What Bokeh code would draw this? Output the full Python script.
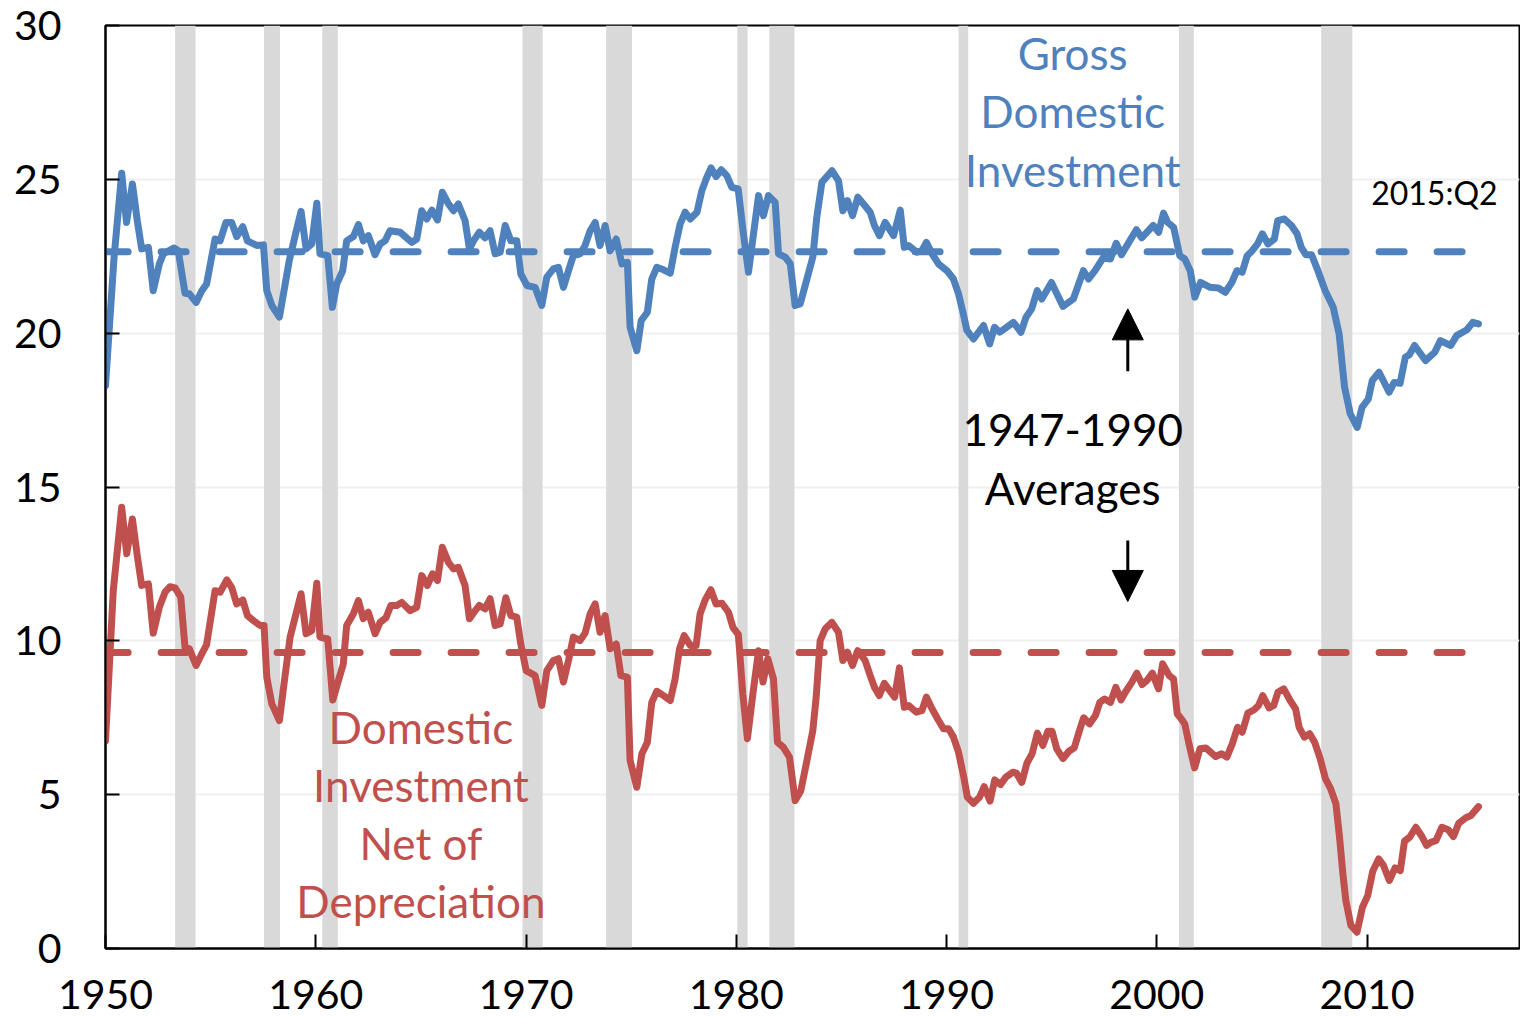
from bokeh.plotting import figure
from bokeh.models import Range1d, Label, Arrow, NormalHead, FixedTicker
from bokeh.embed import file_html
from bokeh.resources import INLINE

# ---------------- data ----------------
gdi_year = [1950.00, 1950.40, 1950.77, 1951.00, 1951.28, 1951.51, 1951.72, 1952.04, 1952.27, 1952.56,
            1952.75, 1953.26, 1953.46, 1953.78, 1953.99, 1954.31, 1954.58, 1954.81, 1955.21, 1955.45,
            1955.73, 1956.00, 1956.24, 1956.53, 1956.75, 1957.19, 1957.51, 1957.67, 1957.91, 1958.27,
            1958.49, 1958.74, 1959.02, 1959.30, 1959.54, 1959.81, 1960.05, 1960.20, 1960.57, 1960.79,
            1961.00, 1961.28, 1961.47, 1961.79, 1962.03, 1962.26, 1962.50, 1962.82, 1963.06, 1963.30,
            1963.53, 1964.01, 1964.57, 1964.80, 1965.04, 1965.28, 1965.52, 1965.79, 1966.02, 1966.31,
            1966.55, 1966.78, 1967.10, 1967.31, 1967.50, 1967.78, 1968.05, 1968.29, 1968.53, 1968.77,
            1969.01, 1969.28, 1969.56, 1969.75, 1970.04, 1970.43, 1970.75, 1970.99, 1971.30, 1971.54,
            1971.78, 1972.02, 1972.25, 1972.57, 1972.81, 1973.05, 1973.29, 1973.52, 1973.76, 1974.00,
            1974.29, 1974.56, 1974.82, 1974.95, 1975.27, 1975.48, 1975.77, 1975.98, 1976.22, 1976.54,
            1976.86, 1977.09, 1977.33, 1977.57, 1977.81, 1978.13, 1978.36, 1978.60, 1978.80, 1979.04,
            1979.28, 1979.55, 1979.79, 1980.09, 1980.34, 1980.58, 1980.82, 1981.06, 1981.29, 1981.53,
            1981.85, 1982.01, 1982.33, 1982.57, 1982.80, 1983.04, 1983.36, 1983.64, 1983.83, 1984.07,
            1984.55, 1984.86, 1985.07, 1985.29, 1985.53, 1985.78, 1986.05, 1986.37, 1986.57, 1986.81,
            1987.08, 1987.48, 1987.80, 1987.99, 1988.19, 1988.59, 1988.83, 1989.04, 1989.31, 1989.62,
            1990.02, 1990.33, 1990.57, 1990.78, 1990.97, 1991.28, 1991.76, 1992.05, 1992.28, 1992.53,
            1993.18, 1993.54, 1993.78, 1994.05, 1994.31, 1994.53, 1994.99, 1995.54, 1996.03, 1996.51,
            1996.75, 1997.06, 1997.47, 1997.79, 1998.07, 1998.32, 1998.67, 1999.03, 1999.28, 1999.83,
            2000.09, 2000.32, 2000.52, 2000.80, 2001.09, 2001.33, 2001.59, 2001.81, 2002.08, 2002.54,
            2002.93, 2003.26, 2003.57, 2003.81, 2004.06, 2004.30, 2004.54, 2004.79, 2005.02, 2005.29,
            2005.59, 2005.75, 2006.07, 2006.40, 2006.67, 2006.87, 2007.09, 2007.36, 2007.60, 2008.01,
            2008.39, 2008.67, 2008.93, 2009.20, 2009.53, 2009.76, 2010.06, 2010.25, 2010.57, 2011.05,
            2011.29, 2011.57, 2011.82, 2012.01, 2012.26, 2012.78, 2013.22, 2013.49, 2013.98, 2014.26,
            2014.75, 2015.03, 2015.30]
gdi_pct = [18.30, 22.40, 25.20, 23.60, 24.85, 23.66, 22.74, 22.79, 21.38, 22.25,
           22.58, 22.77, 22.68, 21.30, 21.28, 21.00, 21.38, 21.60, 23.06, 23.00,
           23.60, 23.60, 23.14, 23.46, 23.00, 22.85, 22.87, 21.38, 20.90, 20.52,
           21.38, 22.36, 23.17, 23.96, 22.74, 22.90, 24.22, 22.58, 22.52, 20.84,
           21.60, 22.03, 23.00, 23.14, 23.53, 23.00, 23.17, 22.55, 22.90, 23.00,
           23.33, 23.28, 22.95, 23.06, 23.98, 23.71, 24.00, 23.68, 24.58, 24.20,
           23.98, 24.20, 23.66, 22.74, 23.00, 23.28, 23.10, 23.33, 22.58, 22.63,
           23.50, 23.00, 23.00, 21.93, 21.55, 21.49, 20.90, 21.82, 22.09, 22.14,
           21.49, 22.03, 22.52, 22.58, 22.85, 23.33, 23.60, 22.85, 23.50, 22.68,
           23.06, 22.25, 22.30, 20.19, 19.43, 20.41, 20.68, 21.76, 22.14, 22.06,
           21.95, 22.79, 23.55, 23.93, 23.71, 23.93, 24.63, 25.07, 25.37, 25.09,
           25.31, 25.12, 24.74, 24.69, 23.23, 21.98, 23.23, 24.47, 23.82, 24.47,
           24.25, 22.58, 22.47, 22.25, 20.90, 20.95, 21.76, 22.47, 23.77, 24.90,
           25.28, 24.96, 23.98, 24.31, 23.82, 24.42, 24.20, 23.93, 23.50, 23.17,
           23.60, 23.17, 24.00, 22.79, 22.85, 22.63, 22.68, 22.95, 22.58, 22.25,
           22.03, 21.76, 21.28, 20.68, 20.09, 19.81, 20.25, 19.65, 20.19, 20.03,
           20.35, 20.03, 20.52, 20.79, 21.38, 21.11, 21.65, 20.87, 21.11, 22.03,
           21.76, 22.03, 22.47, 22.41, 22.92, 22.55, 22.95, 23.36, 23.10, 23.50,
           23.28, 23.90, 23.60, 23.44, 22.52, 22.41, 22.03, 21.17, 21.65, 21.49,
           21.47, 21.33, 21.65, 22.03, 21.98, 22.52, 22.68, 22.90, 23.23, 22.90,
           23.06, 23.66, 23.71, 23.50, 23.23, 22.79, 22.55, 22.55, 22.14, 21.38,
           20.84, 19.98, 18.24, 17.38, 16.94, 17.59, 17.86, 18.46, 18.73, 18.08,
           18.40, 18.37, 19.22, 19.30, 19.60, 19.11, 19.38, 19.76, 19.60, 19.92,
           20.11, 20.35, 20.30]

net_year = [1950.00, 1950.37, 1950.77, 1951.01, 1951.28, 1951.51, 1951.72, 1952.04, 1952.27, 1952.56,
            1952.83, 1953.07, 1953.31, 1953.58, 1953.78, 1953.99, 1954.31, 1954.58, 1954.81, 1955.21,
            1955.45, 1955.77, 1956.00, 1956.24, 1956.53, 1956.75, 1957.03, 1957.35, 1957.54, 1957.67,
            1957.91, 1958.27, 1958.49, 1958.78, 1959.02, 1959.30, 1959.54, 1959.81, 1960.05, 1960.20,
            1960.57, 1960.81, 1961.03, 1961.31, 1961.47, 1961.79, 1962.03, 1962.26, 1962.50, 1962.82,
            1963.06, 1963.34, 1963.57, 1963.85, 1964.09, 1964.49, 1964.80, 1965.04, 1965.31, 1965.55,
            1965.79, 1966.02, 1966.31, 1966.55, 1966.78, 1967.10, 1967.31, 1967.53, 1967.78, 1968.05,
            1968.29, 1968.53, 1968.77, 1969.04, 1969.28, 1969.56, 1969.75, 1970.01, 1970.43, 1970.75,
            1970.99, 1971.30, 1971.54, 1971.78, 1972.02, 1972.25, 1972.57, 1972.81, 1973.05, 1973.29,
            1973.52, 1973.76, 1974.00, 1974.29, 1974.51, 1974.82, 1974.95, 1975.27, 1975.51, 1975.77,
            1975.98, 1976.22, 1976.54, 1976.86, 1977.09, 1977.30, 1977.52, 1977.81, 1978.09, 1978.28,
            1978.52, 1978.79, 1979.04, 1979.32, 1979.63, 1979.84, 1980.10, 1980.31, 1980.53, 1980.79,
            1981.06, 1981.27, 1981.50, 1981.77, 1981.96, 1982.24, 1982.53, 1982.80, 1983.07, 1983.36,
            1983.64, 1983.80, 1983.99, 1984.23, 1984.55, 1984.86, 1985.07, 1985.29, 1985.53, 1985.78,
            1986.13, 1986.37, 1986.57, 1986.80, 1987.04, 1987.53, 1987.76, 1987.99, 1988.19, 1988.56,
            1988.83, 1989.04, 1989.31, 1989.62, 1989.86, 1990.10, 1990.33, 1990.57, 1990.82, 1990.99,
            1991.28, 1991.57, 1991.79, 1992.07, 1992.29, 1992.57, 1992.82, 1993.16, 1993.32, 1993.58,
            1993.82, 1994.07, 1994.32, 1994.58, 1994.82, 1995.02, 1995.24, 1995.54, 1995.82, 1996.07,
            1996.32, 1996.52, 1996.80, 1997.08, 1997.29, 1997.52, 1997.80, 1998.05, 1998.30, 1998.50,
            1998.81, 1999.05, 1999.30, 1999.53, 1999.79, 2000.08, 2000.28, 2000.59, 2000.80, 2000.97,
            2001.17, 2001.33, 2001.53, 2001.80, 2002.05, 2002.33, 2002.80, 2003.08, 2003.33, 2003.59,
            2003.84, 2004.06, 2004.33, 2004.63, 2004.84, 2005.04, 2005.34, 2005.56, 2005.76, 2006.04,
            2006.34, 2006.60, 2006.77, 2007.02, 2007.27, 2007.51, 2007.77, 2008.02, 2008.27, 2008.52,
            2008.69, 2008.85, 2008.99, 2009.23, 2009.52, 2009.78, 2010.03, 2010.27, 2010.55, 2010.78,
            2011.06, 2011.33, 2011.58, 2011.78, 2012.03, 2012.32, 2012.61, 2012.83, 2013.03, 2013.28,
            2013.56, 2013.86, 2014.11, 2014.36, 2014.70, 2014.94, 2015.11, 2015.30]
net_pct = [6.75, 11.63, 14.34, 12.83, 13.96, 12.77, 11.80, 11.85, 10.25, 11.09,
           11.58, 11.76, 11.72, 11.42, 9.79, 9.74, 9.20, 9.58, 9.88, 11.63,
           11.58, 11.98, 11.74, 11.20, 11.33, 10.82, 10.66, 10.50, 10.50, 8.82,
           7.95, 7.41, 8.60, 10.12, 10.77, 11.53, 10.23, 10.33, 11.87, 10.12,
           10.06, 8.08, 8.60, 9.25, 10.50, 10.88, 11.31, 10.72, 10.93, 10.23,
           10.60, 10.75, 11.15, 11.15, 11.25, 10.98, 11.09, 12.12, 11.80, 12.18,
           11.96, 13.04, 12.55, 12.34, 12.39, 11.80, 10.72, 10.93, 11.15, 11.04,
           11.37, 10.50, 10.55, 11.40, 10.82, 10.77, 9.90, 9.03, 8.87, 7.90,
           9.03, 9.36, 9.42, 8.66, 9.36, 10.12, 10.01, 10.25, 10.88, 11.20,
           10.28, 10.82, 9.74, 9.90, 8.87, 8.82, 6.11, 5.24, 6.33, 6.70,
           8.00, 8.36, 8.22, 8.06, 8.76, 9.74, 10.17, 9.85, 9.85, 10.88,
           11.33, 11.66, 11.20, 11.22, 10.93, 10.44, 10.20, 8.28, 6.82, 8.28,
           9.68, 8.66, 9.42, 8.76, 6.70, 6.54, 6.22, 4.81, 5.13, 6.11,
           7.08, 8.17, 10.01, 10.39, 10.60, 10.28, 9.36, 9.63, 9.20, 9.68,
           9.36, 8.87, 8.49, 8.22, 8.62, 8.17, 9.12, 7.84, 7.90, 7.68,
           7.73, 8.17, 7.79, 7.41, 7.14, 7.14, 6.87, 6.38, 5.57, 4.92,
           4.72, 4.92, 5.26, 4.79, 5.48, 5.33, 5.57, 5.73, 5.70, 5.40,
           6.02, 6.33, 7.00, 6.60, 7.06, 7.06, 6.49, 6.17, 6.41, 6.52,
           7.08, 7.50, 7.30, 7.57, 8.00, 8.11, 8.00, 8.49, 8.08, 8.33,
           8.65, 8.95, 8.58, 8.71, 8.95, 8.44, 9.25, 8.87, 8.76, 7.63,
           7.46, 7.30, 6.65, 5.87, 6.49, 6.52, 6.24, 6.33, 6.22, 6.65,
           7.19, 7.03, 7.65, 7.76, 7.90, 8.22, 7.82, 7.90, 8.33, 8.44,
           8.06, 7.79, 7.19, 6.87, 6.98, 6.70, 6.17, 5.52, 5.19, 4.70,
           3.62, 2.43, 1.56, 0.75, 0.53, 1.34, 1.72, 2.51, 2.91, 2.70,
           2.21, 2.62, 2.53, 3.49, 3.62, 3.94, 3.64, 3.35, 3.45, 3.51,
           3.94, 3.86, 3.64, 4.07, 4.25, 4.32, 4.46, 4.61]

# 1947-1990 averages
gdi_avg = 22.65
net_avg = 9.62

# recessions (shaded)
rec_start = [1953.31, 1957.54, 1960.31, 1969.83, 1973.81, 1980.05, 1981.57, 1990.57, 2001.05, 2007.82]
rec_end = [1954.28, 1958.30, 1961.05, 1970.79, 1975.04, 1980.54, 1982.77, 1991.03, 2001.76, 2009.30]

x_ticks = [1950, 1960, 1970, 1980, 1990, 2000, 2010]
y_ticks = [0, 5, 10, 15, 20, 25, 30]

BLUE = "#4F81BD"
RED = "#C0504D"
FONT = "Lato"

# ---------------- figure ----------------
p = figure(width=1520, height=1017,
           x_range=Range1d(1950, 2017.25), y_range=Range1d(0, 30),
           output_backend="svg", toolbar_location=None,
           min_border_left=105, min_border_right=1, min_border_top=25, min_border_bottom=69)
p.background_fill_color = "white"
p.border_fill_color = "white"
p.outline_line_color = "black"
p.outline_line_width = 2

# recession shading
p.quad(left=rec_start, right=rec_end, bottom=0, top=30,
       fill_color="#D9D9D9", line_color=None)

# average lines
AVG_FROM, AVG_TO = 1949.886, 2014.9
p.line([AVG_FROM, AVG_TO], [gdi_avg, gdi_avg], line_color=BLUE, line_width=7,
       line_dash="25 33", line_cap="round")
p.line([AVG_FROM, AVG_TO], [net_avg, net_avg], line_color=RED, line_width=7,
       line_dash="25 33", line_cap="round")

# series
p.line(gdi_year, gdi_pct, line_color=BLUE, line_width=7, line_join="round", line_cap="round")
p.line(net_year, net_pct, line_color=RED, line_width=7, line_join="round", line_cap="round")

# axes
for ax in (p.xaxis[0], p.yaxis[0]):
    ax.axis_line_color = "black"
    ax.axis_line_width = 2
    ax.major_tick_line_color = "black"
    ax.major_tick_line_width = 2
    ax.major_tick_in = 14
    ax.major_tick_out = 0
    ax.minor_tick_in = 0
    ax.minor_tick_out = 0
    ax.major_label_text_font = FONT
    ax.major_label_text_font_size = "41px"
    ax.major_label_text_color = "black"
p.xaxis.ticker = FixedTicker(ticks=x_ticks)
p.yaxis.ticker = FixedTicker(ticks=y_ticks)
p.yaxis.major_label_standoff = 44
p.xaxis.major_label_standoff = 31

p.xgrid.grid_line_color = None
p.ygrid.ticker = FixedTicker(ticks=y_ticks)
p.ygrid.grid_line_color = "#EFEFEF"
p.ygrid.grid_line_width = 2

# text annotations
def add_label(x, y, text, color, size):
    p.add_layout(Label(x=x, y=y, text=text, text_align="center", text_baseline="alphabetic",
                       text_font=FONT, text_font_size=size, text_color=color))

for t, y in zip(["Gross", "Domestic", "Investment"], [29.09, 27.21, 25.29]):
    add_label(1996.0, y, t, BLUE, "44px")
for t, y in zip(["Domestic", "Investment", "Net of", "Depreciation"], [7.20, 5.31, 3.43, 1.54]):
    add_label(1965.0, y, t, RED, "44px")
for t, y in zip(["1947-1990", "Averages"], [16.86, 14.96]):
    add_label(1996.0, y, t, "black", "44px")
add_label(2013.2, 24.58, "2015:Q2", "black", "32px")

# arrows
p.add_layout(Arrow(end=NormalHead(size=31, fill_color="black", line_color="black"),
                   x_start=1998.62, y_start=18.76, x_end=1998.62, y_end=20.79,
                   line_color="black", line_width=3))
p.add_layout(Arrow(end=NormalHead(size=31, fill_color="black", line_color="black"),
                   x_start=1998.62, y_start=13.26, x_end=1998.62, y_end=11.28,
                   line_color="black", line_width=3))

open("out.html", "w").write(file_html(p, INLINE))
